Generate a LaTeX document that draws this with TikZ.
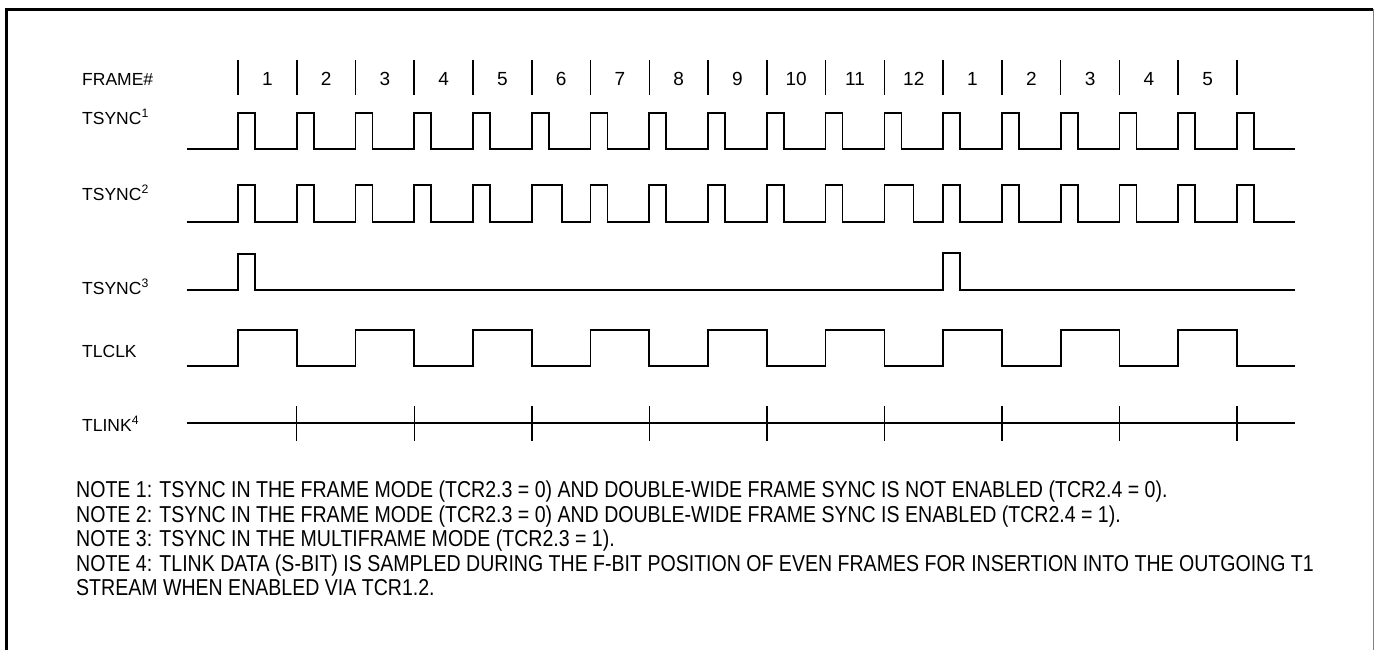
\documentclass[tikz,border=0pt]{standalone}
\usepackage{fontspec}
\setmainfont{Liberation Sans}
\newfontfamily\narrowfont[FakeStretch=0.85]{Liberation Sans}
\begin{document}
\begin{tikzpicture}[x=1pt,y=-1pt,
  sig/.style={line width=1.7pt,line join=miter},
  lbl/.style={anchor=base west,inner sep=0pt,font=\fontsize{17.5}{21}\selectfont},
  num/.style={anchor=base,inner sep=0pt,font=\fontsize{19}{22}\selectfont},
  note/.style={anchor=base west,inner sep=0pt,font=\narrowfont\fontsize{23}{26}\selectfont}]
\useasboundingbox (0,0) rectangle (1374,649);
% frame border
\draw[line width=3pt] (6,700) -- (6,9) -- (1373,9);
\draw[line width=1pt,gray] (1373,9) -- (1373,700);
% labels
\node[lbl] (lframe) at (82,85) {FRAME\#};
\node[lbl] (ltsa) at (82,124) {TSYNC\textsuperscript{1}};
\node[lbl] (ltsb) at (82,200) {TSYNC\textsuperscript{2}};
\node[lbl] (ltsc) at (82,294) {TSYNC\textsuperscript{3}};
\node[lbl] (lclk) at (82,357) {TLCLK};
\node[lbl] (llink) at (82,431) {TLINK\textsuperscript{4}};
% frame ticks and numbers
\foreach \i in {0,...,17} {
  \draw[line width=1.6pt] ({238+58.76*\i},60) -- ({238+58.76*\i},95);
}
\foreach \n [count=\i from 0] in {1,2,3,4,5,6,7,8,9,10,11,12,1,2,3,4,5} {
  \node[num] (f\i) at ({267.4+58.76*\i},85) {\n};
}
% TSYNC1
\draw[sig] (187,149) \foreach \i in {0,...,17} { -- ({238+58.76*\i},149) -- ++(0,-36) -- ++(17,0) -- ++(0,36) } -- (1295,149);
% TSYNC2
\draw[sig] (187,222) \foreach \i/\w in {0/17,1/17,2/17,3/17,4/17,5/30,6/17,7/17,8/17,9/17,10/17,11/29,12/17,13/17,14/17,15/17,16/17,17/17} { -- ({238+58.76*\i},222) -- ++(0,-37) -- ++(\w,0) -- ++(0,37) } -- (1295,222);
% TSYNC3
\draw[sig] (187,290) -- (238,290) -- (238,254) -- (255,254) -- (255,290) -- (943,290) -- (943,253) -- (960,253) -- (960,290) -- (1295,290);
% TLCLK
\draw[sig] (187,366) \foreach \k in {0,...,8} { -- ({238+117.52*\k},366) -- ++(0,-36) -- ({238+58.76+117.52*\k},330) -- ++(0,36) } -- (1295,366);
% TLINK
\draw[sig] (187,423) -- (1295,423);
\foreach \k in {0,...,8} {
  \draw[line width=1.4pt] ({296.76+117.52*\k},406) -- ({296.76+117.52*\k},441);
}
% notes
\node[note] (n1) at (76,497) {NOTE 1: TSYNC IN THE FRAME MODE (TCR2.3 = 0) AND DOUBLE-WIDE FRAME SYNC IS NOT ENABLED (TCR2.4 = 0).};
\node[note] (n2) at (76,522) {NOTE 2: TSYNC IN THE FRAME MODE (TCR2.3 = 0) AND DOUBLE-WIDE FRAME SYNC IS ENABLED (TCR2.4 = 1).};
\node[note] (n3) at (76,546) {NOTE 3: TSYNC IN THE MULTIFRAME MODE (TCR2.3 = 1).};
\node[note] (n4) at (76,571) {NOTE 4: TLINK DATA (S-BIT) IS SAMPLED DURING THE F-BIT POSITION OF EVEN FRAMES FOR INSERTION INTO THE OUTGOING T1};
\node[note] (n5) at (76,595) {STREAM WHEN ENABLED VIA TCR1.2.};
\end{tikzpicture}
\end{document}
